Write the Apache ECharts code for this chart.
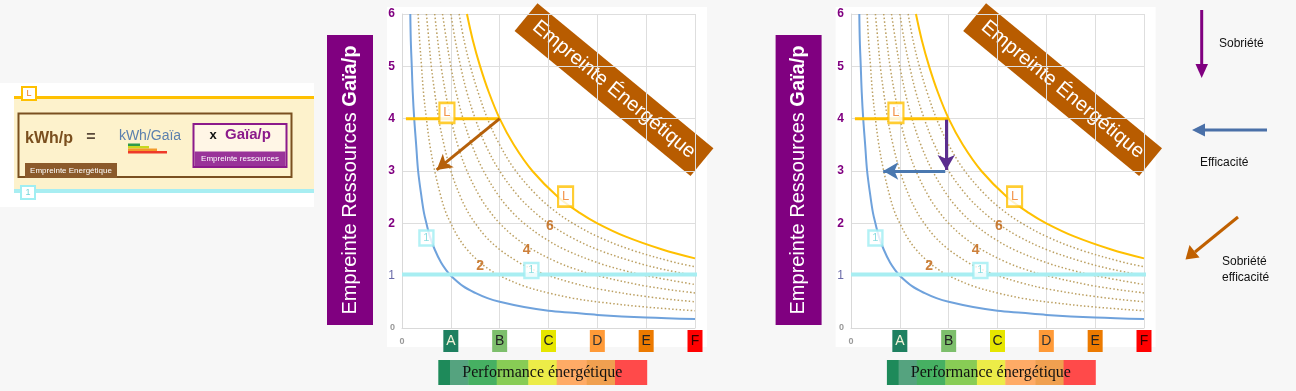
<!DOCTYPE html>
<html><head><meta charset="utf-8">
<script src="https://cdn.jsdelivr.net/npm/echarts@6/dist/echarts.min.js"></script>
<style>html,body{margin:0;padding:0;background:#f7f7f7}#c{width:1296px;height:391px}</style>
</head><body><div id="c"></div><script>
// ---------- data ----------
const xTickLabels = ['0', 'A', 'B', 'C', 'D', 'E', 'F'];
const yTickLabels = ['0', '1', '2', '3', '4', '5', '6'];
// iso-energy curves (kWh/p)
const curve1 = [[0.17,6],[0.18,5.5],[0.2,5],[0.22,4.5],[0.25,4],[0.29,3.5],[0.33,3],[0.4,2.5],[0.45,2.2],[0.5,2],[0.57,1.75],[0.67,1.5],[0.8,1.25],[0.9,1.11],[1,1],[1.25,0.8],[1.5,0.67],[1.75,0.57],[2,0.5],[2.5,0.4],[3,0.33],[3.5,0.29],[4,0.25],[5,0.2],[6,0.17]];
const curve2 = [[0.33,6],[0.36,5.5],[0.4,5],[0.44,4.5],[0.5,4],[0.57,3.5],[0.67,3],[0.8,2.5],[0.9,2.2],[1,2],[1.14,1.75],[1.33,1.5],[1.6,1.25],[1.8,1.11],[2,1],[2.5,0.8],[3,0.67],[3.5,0.57],[4,0.5],[5,0.4],[6,0.33]];
const curve3 = [[0.5,6],[0.55,5.5],[0.6,5],[0.67,4.5],[0.75,4],[0.86,3.5],[1,3],[1.2,2.5],[1.36,2.2],[1.5,2],[1.71,1.75],[2,1.5],[2.4,1.25],[2.7,1.11],[3,1],[3.5,0.86],[4,0.75],[5,0.6],[6,0.5]];
const curve4 = [[0.67,6],[0.73,5.5],[0.8,5],[0.89,4.5],[1,4],[1.14,3.5],[1.33,3],[1.6,2.5],[1.82,2.2],[2,2],[2.29,1.75],[2.67,1.5],[3.2,1.25],[3.6,1.11],[4,1],[5,0.8],[6,0.67]];
const curve5 = [[0.83,6],[0.91,5.5],[1,5],[1.11,4.5],[1.25,4],[1.43,3.5],[1.67,3],[2,2.5],[2.27,2.2],[2.5,2],[2.86,1.75],[3.33,1.5],[4,1.25],[4.5,1.11],[5,1],[6,0.83]];
const curve6 = [[1,6],[1.09,5.5],[1.2,5],[1.33,4.5],[1.5,4],[1.71,3.5],[2,3],[2.4,2.5],[2.73,2.2],[3,2],[3.43,1.75],[4,1.5],[4.8,1.25],[5.4,1.11],[6,1]];
const curve7 = [[1.17,6],[1.27,5.5],[1.4,5],[1.56,4.5],[1.75,4],[2,3.5],[2.33,3],[2.8,2.5],[3.18,2.2],[3.5,2],[4,1.75],[4.67,1.5],[5.6,1.25],[6,1.17]];
const curve8 = [[1.33,6],[1.45,5.5],[1.6,5],[1.78,4.5],[2,4],[2.29,3.5],[2.67,3],[3.2,2.5],[3.64,2.2],[4,2],[4.57,1.75],[5.33,1.5],[6,1.33]];
const curveNumbers = [[1.6,1.19,'2'],[2.55,1.49,'4'],[3.03,1.94,'6']];
const lineL = [[0.08,4],[2,4]];
const line1 = [[0,1.02],[6.1,1.02]];
const boxesL = [[0.92,4.11],[3.35,2.51]];
const boxes1 = [[0.5,1.72],[2.65,1.1]];
const arrowBoth = [[2,4],[0.71,3.02]];      // left chart: sobriété + efficacité
const arrowSobriete = [[1.95,3.98],[1.95,3.02]];
const arrowEfficacite = [[1.93,3.0],[0.66,3.0]];
const perfBand = ['#1e8a5a','#55a37f','#46b062','#88cc55','#ecec48','#ffab66','#f0a050','#ff4a4a'];
const perfEdges = [0, 11.7, 30, 58.4, 90, 118.4, 148.4, 176.7, 208.4];

// ---------- chart ----------
const chart = echarts.init(document.getElementById('c'), null, {renderer:'canvas'});
const FONT = 'Liberation Sans, Arial, sans-serif';
const curves = [curve1,curve2,curve3,curve4,curve5,curve6,curve7,curve8];
const gridsX = [402, 851];

const richX = {
  z:{color:'#999', fontSize:9, fontWeight:'bold', height:22, lineHeight:22, padding:[2,0,0,0]},
  A:{backgroundColor:'#1e8060', color:'#f2f2d8'},
  B:{backgroundColor:'#7dbf6c', color:'#222'},
  C:{backgroundColor:'#e6e600', color:'#222'},
  D:{backgroundColor:'#ff9a38', color:'#333'},
  E:{backgroundColor:'#ec7a00', color:'#222'},
  F:{backgroundColor:'#ff0000', color:'#330000'}
};
['A','B','C','D','E','F'].forEach(k => Object.assign(richX[k], {width:15, height:22, lineHeight:22, align:'center', fontSize:14, fontFamily:FONT}));

const xAxes = [], yAxes = [], grids = [], series = [];
gridsX.forEach((gx, i) => {
  grids.push({left:gx, top:14, width:293, height:314});
  xAxes.push({type:'value', gridIndex:i, min:0, max:6, interval:1,
    axisLine:{show:true, lineStyle:{color:'#d9d9d9'}}, axisTick:{show:false},
    splitLine:{show:true, lineStyle:{color:'#dedede'}},
    axisLabel:{margin:2, fontFamily:FONT, rich:richX,
      formatter:v => { const t = xTickLabels[v]; return v === 0 ? '{z|' + t + '}' : '{' + t + '|' + t + '}'; }}
  });
  yAxes.push({type:'value', gridIndex:i, min:0, max:6, interval:1,
    axisLine:{show:true, lineStyle:{color:'#d9d9d9'}}, axisTick:{show:false},
    splitLine:{show:true, lineStyle:{color:'#dedede'}},
    axisLabel:{margin:7, fontFamily:FONT,
      rich:{z:{color:'#999', fontSize:9, fontWeight:'bold'}, o:{color:'#6a6aa8', fontSize:12}, p:{color:'#800080', fontSize:12, fontWeight:'bold'}},
      formatter:v => { const t = yTickLabels[v]; return v === 0 ? '{z|' + t + '}' : v === 1 ? '{o|' + t + '}' : '{p|' + t + '}'; }}
  });
  curves.forEach((c, k) => {
    let ls;
    if (k === 0) ls = {color:'#6fa2dc', width:2};
    else if (k === 7) ls = {color:'#ffc000', width:2};
    else ls = {color:'#bca062', width:1.5, type:[1.5,2.2]};
    series.push({type:'line', xAxisIndex:i, yAxisIndex:i, data:c, smooth:0.35,
      showSymbol:false, symbol:'none', lineStyle:ls, z:3, silent:true});
  });
  series.push({type:'line', xAxisIndex:i, yAxisIndex:i, data:lineL, showSymbol:false, symbol:'none',
    lineStyle:{color:'#ffc000', width:3}, z:4, silent:true});
  const arrows = i === 0
    ? [{pts:arrowBoth, color:'#b5600a'}]
    : [{pts:arrowSobriete, color:'#5b2d8e'}, {pts:arrowEfficacite, color:'#4a78b0'}];
  series.push({type:'line', xAxisIndex:i, yAxisIndex:i, data:line1, showSymbol:false, symbol:'none', clip:false,
    lineStyle:{color:'#a8eef2', width:4}, z:4, silent:true,
    markLine:{silent:true, symbol:['none','arrow'], symbolSize:[13,15], animation:false,
      label:{show:false},
      data: arrows.map(a => [{coord:a.pts[0], lineStyle:{color:a.color, width:3, type:'solid'}, itemStyle:{color:a.color}}, {coord:a.pts[1]}])}
  });
  series.push({type:'scatter', xAxisIndex:i, yAxisIndex:i, data:boxesL, symbol:'rect', symbolSize:[15,20],
    itemStyle:{color:'#fff', borderColor:'#ffc000', borderWidth:2.5}, z:6, silent:true,
    label:{show:true, position:'inside', formatter:'L', color:'#f07a20', fontSize:13, fontFamily:FONT}});
  series.push({type:'scatter', xAxisIndex:i, yAxisIndex:i, data:boxes1, symbol:'rect', symbolSize:[14,15],
    itemStyle:{color:'#fff', borderColor:'#a0eef2', borderWidth:2.5}, z:6, silent:true,
    label:{show:true, position:'inside', formatter:'1', color:'#6fd4d8', fontSize:11, fontFamily:FONT}});
  series.push({type:'scatter', xAxisIndex:i, yAxisIndex:i, data:curveNumbers, symbolSize:0, z:6, silent:true,
    label:{show:true, position:'inside', formatter:p => p.data[2], color:'#c0600a', fontSize:14, fontWeight:'bold', fontFamily:FONT}});
});

// ---------- graphic decorations ----------
const graphic = [];
gridsX.forEach((gx, i) => {
  const dx = i * 448.6;
  graphic.push({type:'rect', shape:{x:387 + dx, y:7, width:320, height:340}, style:{fill:'#ffffff'}, z:-10, silent:true});
  graphic.push({type:'rect', shape:{x:327 + dx, y:35, width:46, height:290}, style:{fill:'#800080'}, z:10, silent:true});
  graphic.push({type:'text', x:350 + dx, y:180, rotation:Math.PI / 2, z:11, silent:true,
    style:{text:'{n|Empreinte Ressources }{b|Gaïa/p}', align:'center', verticalAlign:'middle',
      rich:{n:{fill:'#fff', fontSize:20, fontFamily:FONT}, b:{fill:'#fff', fontSize:20, fontWeight:'bold', fontFamily:FONT}}}});
  graphic.push({type:'group', x:614 + dx, y:89.6, rotation:-39.5 * Math.PI / 180, z:20, silent:true,
    children:[
      {type:'rect', shape:{x:-114, y:-18, width:228, height:36}, style:{fill:'#b85c00'}},
      {type:'text', x:0, y:0, style:{text:'Empreinte Énergétique', fill:'#fff', fontSize:20, fontFamily:FONT, align:'center', verticalAlign:'middle'}}
    ]});
  const bx = 438.3 + dx;
  perfBand.forEach((col, j) => {
    graphic.push({type:'rect', shape:{x:bx + perfEdges[j], y:360, width:perfEdges[j + 1] - perfEdges[j] + 0.5, height:25}, style:{fill:col}, silent:true});
  });
  graphic.push({type:'text', x:bx + 104, y:372.5, silent:true, z:5,
    style:{text:'Performance énergétique', fill:'#111', fontSize:16, fontFamily:'Liberation Serif, DejaVu Serif, serif', align:'center', verticalAlign:'middle'}});
});

// left explanation panel
graphic.push(
  {type:'rect', shape:{x:0, y:83, width:314, height:124}, style:{fill:'#fff'}, silent:true},
  {type:'rect', shape:{x:14, y:99, width:300, height:90}, style:{fill:'#fdf2cc'}, silent:true},
  {type:'line', shape:{x1:14, y1:97.5, x2:314, y2:97.5}, style:{stroke:'#ffc000', lineWidth:3}, silent:true},
  {type:'line', shape:{x1:14, y1:191, x2:314, y2:191}, style:{stroke:'#a8eef2', lineWidth:4}, silent:true},
  {type:'rect', shape:{x:22, y:87, width:14, height:13}, style:{fill:'#fff', stroke:'#ffc000', lineWidth:2}, silent:true},
  {type:'text', x:29, y:93.7, style:{text:'L', fill:'#f07a20', fontSize:9, fontFamily:FONT, align:'center', verticalAlign:'middle'}, silent:true},
  {type:'rect', shape:{x:21, y:186, width:14, height:13}, style:{fill:'#fff', stroke:'#a0eef2', lineWidth:2}, silent:true},
  {type:'text', x:28, y:192.7, style:{text:'1', fill:'#6fd4d8', fontSize:9, fontFamily:FONT, align:'center', verticalAlign:'middle'}, silent:true},
  {type:'rect', shape:{x:18.5, y:113.5, width:273, height:63.5}, style:{fill:'none', stroke:'#7a5020', lineWidth:2}, silent:true},
  {type:'text', x:25, y:139, style:{text:'kWh/p', fill:'#7a4f1e', fontSize:16, fontWeight:'bold', fontFamily:FONT, verticalAlign:'middle'}, silent:true},
  {type:'text', x:91, y:138, style:{text:'=', fill:'#5a4a3a', fontSize:16, fontWeight:'bold', fontFamily:FONT, align:'center', verticalAlign:'middle'}, silent:true},
  {type:'text', x:150, y:136, style:{text:'kWh/Gaïa', fill:'#5b80ae', fontSize:14, fontFamily:FONT, align:'center', verticalAlign:'middle'}, silent:true},
  {type:'rect', shape:{x:128, y:143.5, width:12, height:2.5}, style:{fill:'#2e9a4a'}, silent:true},
  {type:'rect', shape:{x:128, y:146, width:21, height:2.5}, style:{fill:'#c8d820'}, silent:true},
  {type:'rect', shape:{x:128, y:148.5, width:29, height:2.5}, style:{fill:'#f29a2a'}, silent:true},
  {type:'rect', shape:{x:128, y:151, width:39, height:2.5}, style:{fill:'#ee3a2a'}, silent:true},
  {type:'rect', shape:{x:193.5, y:124, width:93, height:43}, style:{fill:'#fff6e6', stroke:'#8b1a8b', lineWidth:2}, silent:true},
  {type:'rect', shape:{x:194.5, y:151.5, width:91, height:14.5}, style:{fill:'#993399'}, silent:true},
  {type:'text', x:240, y:159, style:{text:'Empreinte ressources', fill:'#fff', fontSize:8, fontFamily:FONT, align:'center', verticalAlign:'middle'}, silent:true},
  {type:'text', x:213, y:135, style:{text:'x', fill:'#111', fontSize:13, fontWeight:'bold', fontFamily:FONT, align:'center', verticalAlign:'middle'}, silent:true},
  {type:'text', x:225, y:135, style:{text:'Gaïa/p', fill:'#8b1a8b', fontSize:15, fontWeight:'bold', fontFamily:FONT, verticalAlign:'middle'}, silent:true},
  {type:'rect', shape:{x:25, y:163, width:92, height:15}, style:{fill:'#8b5a2b'}, silent:true},
  {type:'text', x:71, y:170.5, style:{text:'Empreinte Energétique', fill:'#fff', fontSize:8, fontFamily:FONT, align:'center', verticalAlign:'middle'}, silent:true}
);

// right legend arrows
graphic.push(
  {type:'line', shape:{x1:1201.7, y1:10, x2:1201.7, y2:66}, style:{stroke:'#800080', lineWidth:3}, silent:true},
  {type:'polygon', shape:{points:[[1195.5,64],[1208,64],[1201.7,78]]}, style:{fill:'#800080'}, silent:true},
  {type:'text', x:1219, y:44, style:{text:'Sobriété', fill:'#111', fontSize:12, fontFamily:FONT, verticalAlign:'middle'}, silent:true},
  {type:'line', shape:{x1:1267, y1:130, x2:1203, y2:130}, style:{stroke:'#4a70a8', lineWidth:3}, silent:true},
  {type:'polygon', shape:{points:[[1205,123.5],[1205,136.5],[1192,130]]}, style:{fill:'#4a70a8'}, silent:true},
  {type:'text', x:1200, y:163, style:{text:'Efficacité', fill:'#111', fontSize:12, fontFamily:FONT, verticalAlign:'middle'}, silent:true},
  {type:'line', shape:{x1:1238, y1:217, x2:1195, y2:252}, style:{stroke:'#c06000', lineWidth:3}, silent:true},
  {type:'polygon', shape:{points:[[1189.5,245],[1199.5,257.5],[1185.5,259.5]]}, style:{fill:'#c06000'}, silent:true},
  {type:'text', x:1222, y:262, style:{text:'Sobriété', fill:'#111', fontSize:12, fontFamily:FONT, verticalAlign:'middle'}, silent:true},
  {type:'text', x:1222, y:278, style:{text:'efficacité', fill:'#111', fontSize:12, fontFamily:FONT, verticalAlign:'middle'}, silent:true}
);

chart.setOption({
  animation:false,
  backgroundColor:'#f7f7f7',
  textStyle:{fontFamily:FONT},
  grid:grids, xAxis:xAxes, yAxis:yAxes, series:series, graphic:graphic
});
</script></body></html>
